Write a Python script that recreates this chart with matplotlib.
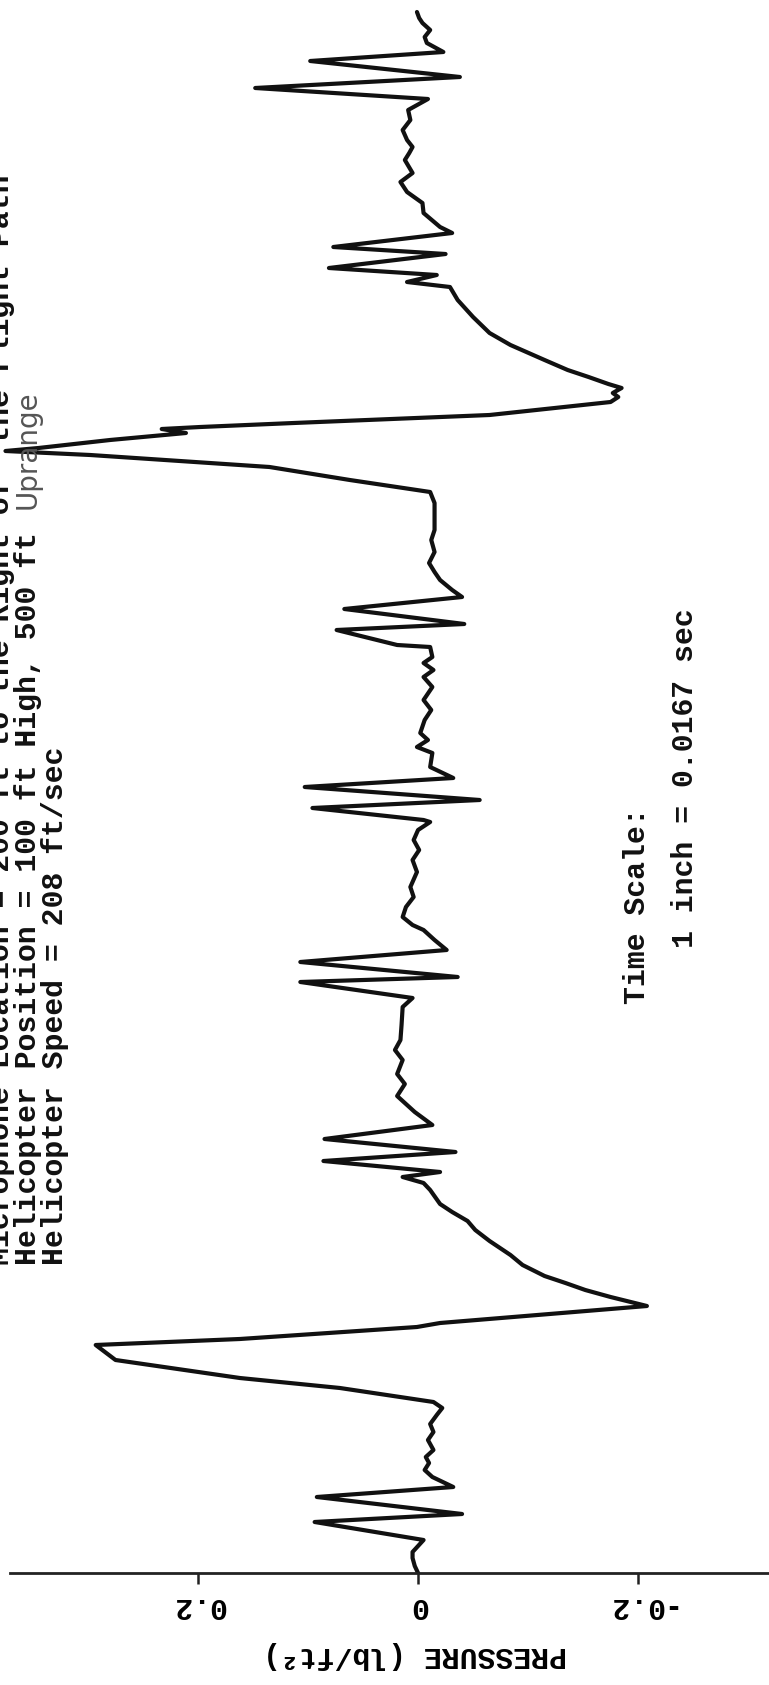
import matplotlib
matplotlib.use("Agg")
import matplotlib.pyplot as plt

# figure size in pixels (dpi 100)
W, H = 769, 1685

# pressure trace, from the bottom of the page upwards
# time in ms (1 inch = 0.0167 sec), pressure in lb/ft^2
time_ms = [
    0.0, 0.7, 1.5, 2.1, 2.7, 3.3, 5.1, 5.9, 7.6, 8.6,
    9.6, 10.3, 11.0, 11.6, 12.3, 13.3, 14.1, 14.9, 15.8, 16.5,
    17.1, 18.5, 19.5, 21.3, 22.8, 23.4, 24.6, 25.0, 26.7, 27.0,
    27.6, 28.3, 29.0, 29.7, 30.8, 31.8, 33.2, 34.3, 35.2, 36.1,
    36.9, 38.3, 39.0, 39.6, 40.1, 41.2, 42.1, 43.4, 44.8, 46.1,
    46.8, 47.7, 48.9, 49.9, 51.3, 52.3, 53.3, 54.8, 56.6, 57.5,
    59.1, 59.6, 61.1, 62.3, 63.3, 64.3, 64.8, 65.6, 66.6, 67.6,
    68.6, 70.1, 71.3, 72.3, 73.3, 74.3, 75.1, 75.3, 76.5, 77.3,
    78.6, 79.5, 80.6, 82.0, 82.6, 83.3, 84.0, 85.3, 86.3, 87.3,
    88.6, 89.6, 90.3, 91.0, 91.6, 92.6, 92.8, 94.3, 94.9, 96.4,
    97.6, 98.3, 99.3, 100.1, 101.0, 102.1, 103.3, 104.3, 105.3, 107.0,
    108.1, 109.3, 110.6, 111.8, 112.2, 112.5, 113.3, 114.0, 114.4, 114.6,
    115.0, 115.6, 115.8, 117.1, 117.6, 118.0, 118.5, 118.9, 119.6, 120.3,
    121.3, 122.8, 124.0, 125.6, 127.3, 128.6, 129.1, 129.8, 130.5, 131.9,
    132.6, 134.0, 134.6, 136.0, 137.0, 138.1, 139.1, 140.0, 141.3, 142.0,
    142.6, 143.3, 144.3, 145.3, 146.3, 147.4, 148.5, 149.6, 151.2, 152.1,
    153.0, 153.6, 154.3, 155.0, 155.5, 156.1,
]
pressure = [
    0.000, 0.003, 0.005, 0.005, 0.000, -0.005, 0.094, -0.040, 0.092, -0.032,
    -0.013, -0.006, -0.010, -0.007, -0.014, -0.009, -0.014, -0.011, -0.017, -0.022,
    -0.014, 0.071, 0.162, 0.275, 0.293, 0.162, 0.001, -0.020, -0.208, -0.197,
    -0.175, -0.152, -0.134, -0.115, -0.095, -0.084, -0.065, -0.052, -0.045, -0.031,
    -0.020, -0.011, -0.005, 0.014, -0.020, 0.086, -0.034, 0.085, -0.013, 0.003,
    0.010, 0.019, 0.012, 0.019, 0.014, 0.021, 0.016, 0.015, 0.014, 0.005,
    0.107, -0.036, 0.107, -0.026, -0.015, -0.005, 0.005, 0.014, 0.011, 0.004,
    0.007, 0.001, 0.005, -0.001, 0.004, 0.000, -0.011, -0.005, 0.096, -0.056,
    0.103, -0.032, -0.011, -0.013, 0.001, -0.009, -0.002, -0.006, -0.012, -0.005,
    -0.013, -0.005, -0.014, -0.005, -0.013, -0.011, 0.019, 0.074, -0.042, 0.067,
    -0.040, -0.031, -0.020, -0.015, -0.010, -0.015, -0.012, -0.015, -0.015, -0.015,
    -0.011, 0.062, 0.135, 0.298, 0.375, 0.345, 0.280, 0.211, 0.233, 0.198,
    0.113, -0.021, -0.065, -0.175, -0.182, -0.177, -0.185, -0.173, -0.155, -0.136,
    -0.115, -0.084, -0.065, -0.050, -0.036, -0.029, 0.010, -0.017, 0.081, -0.025,
    0.077, -0.031, -0.020, -0.005, -0.004, 0.010, 0.016, 0.005, 0.012, 0.008,
    0.005, 0.010, 0.014, 0.007, 0.009, -0.009, 0.148, -0.038, 0.098, -0.023,
    -0.008, -0.006, -0.011, -0.004, -0.001, 0.001,
]

tick_values = [0.2, 0.0, -0.2]
tick_labels = ["0.2", "0", "-0.2"]
axis_label = "PRESSURE (lb/ft\u00b2)"

info_lines = [
    "Microphone Location = 200 ft to the Right of  the Flight Path",
    "Helicopter Position = 100 ft High, 500 ft ",
    "Helicopter Speed = 208 ft/sec",
]
info_tail = "Uprange"
scale_lines = ["Time Scale:", "1 inch = 0.0167 sec"]

MONO = "Liberation Mono"
FS = 21.5


def fpos(x, y):
    # page pixel -> figure fraction
    return x / W, 1 - y / H


fig = plt.figure(figsize=(W / 100, H / 100), dpi=100)
fig.patch.set_facecolor("white")
ax = fig.add_axes([0, 112 / H, 1, 1573 / H])
ax.patch.set_visible(False)

ax.plot(pressure, time_ms, color="#111111", lw=3.0,
        solid_joinstyle="round", solid_capstyle="round")

ax.set_xlim(0.38, -0.319)
ax.set_ylim(0, 157.3)
for s in ["left", "right", "top"]:
    ax.spines[s].set_visible(False)
ax.spines["bottom"].set_linewidth(2.0)
ax.spines["bottom"].set_color("#222222")
ax.spines["bottom"].set_bounds(-0.319, 0.371)
ax.set_yticks([])
ax.set_xticks(tick_values)
ax.set_xticklabels(tick_labels, rotation=180, fontsize=FS,
                   fontfamily=MONO, fontweight="bold")
ax.tick_params(axis="x", direction="out", length=8, width=1.8, pad=6,
               color="#222222")

fig.text(*fpos(415, 1655), axis_label, rotation=180, ha="center",
         va="center", fontsize=FS, family=MONO, weight="bold")

# header block, typed sideways
for xb, line in zip([9, 36, 63], info_lines):
    fig.text(*fpos(xb, 1265), line, rotation=90, rotation_mode="anchor",
             ha="left", va="baseline", fontsize=FS, family=MONO,
             weight="bold", color="#111111")
fig.text(*fpos(36, 1265 - 42 * 18), info_tail, rotation=90,
         rotation_mode="anchor", ha="left", va="baseline", fontsize=20,
         family="DejaVu Sans", color="#555555")

fig.text(*fpos(645, 1004), scale_lines[0], rotation=90, rotation_mode="anchor",
         ha="left", va="baseline", fontsize=FS, family=MONO, weight="bold",
         color="#111111")
fig.text(*fpos(693, 948), scale_lines[1], rotation=90, rotation_mode="anchor",
         ha="left", va="baseline", fontsize=FS, family=MONO, weight="bold",
         color="#111111")

fig.savefig("out.png", dpi=100)
